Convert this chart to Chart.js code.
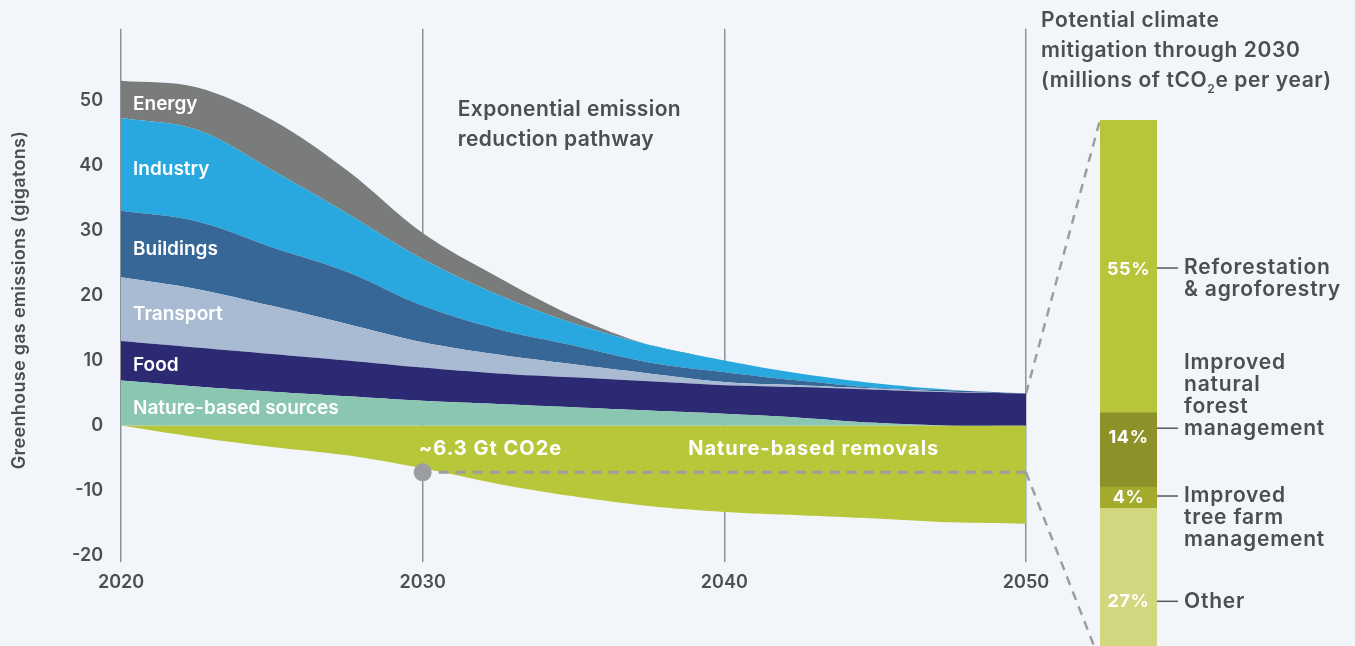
<!DOCTYPE html>
<html>
<head>
<meta charset="utf-8">
<script src="https://cdn.jsdelivr.net/npm/chart.js@4.4.1/dist/chart.umd.min.js"></script>
<style>
  html, body { margin:0; padding:0; background:#f2f6fa; overflow:hidden; }
  #wrap { position:relative; width:1355px; height:646px; overflow:hidden; }
  canvas { position:absolute; left:0; top:0; }
</style>
</head>
<body>
<div id="wrap">
  <canvas id="mainChart" width="1355" height="646"></canvas>
  <canvas id="barChart" width="1355" height="651"></canvas>
</div>
<script>
// ---------- data (gigatons per sector, stacked) ----------
const years         = [2020, 2022.5, 2025, 2027.5, 2030, 2032.5, 2035, 2037.5, 2040, 2042.5, 2045, 2047.5, 2050];
const natureSources = [6.9, 6.0, 5.2, 4.5, 3.8, 3.3, 2.8, 2.3, 1.8, 1.2, 0.4, 0, 0];
const food          = [6.1, 6.0, 5.8, 5.5, 5.1, 4.7, 4.6, 4.5, 4.4, 4.7, 5.1, 5.1, 4.9];
const transport     = [9.8, 9.0, 7.4, 5.6, 3.9, 2.9, 2.0, 1.2, 0.5, 0.3, 0.2, 0.1, 0];
const buildings     = [10.2, 10.4, 9.0, 8.0, 5.6, 3.9, 2.9, 1.7, 1.5, 0.7, 0.1, 0.2, 0];
const industry      = [14.3, 14.1, 11.9, 9.0, 7.2, 5.3, 3.4, 2.7, 1.8, 1.1, 0.7, 0.1, 0];
const energy        = [5.7, 6.5, 7.7, 6.6, 4.0, 2.7, 1.1, 0, 0, 0, 0, 0, 0];
const removals      = [0, -1.8, -3.3, -4.6, -6.6, -9.0, -10.9, -12.4, -13.3, -13.8, -14.3, -14.9, -15.1];

const xTicks = [2020, 2030, 2040, 2050];
const yTicks = [-20, -10, 0, 10, 20, 30, 40, 50];

const markerYear  = 2030;
const markerValue = -7.2;
const markerLabel = '~6.3 Gt CO2e';

// right-hand bar: potential mitigation through 2030
const mitigationShares = [55, 14, 4, 27];
const mitigationLines  = [
  ['Reforestation', '& agroforestry'],
  ['Improved', 'natural', 'forest', 'management'],
  ['Improved', 'tree farm', 'management'],
  ['Other']
];

const FONT = "Inter, 'Open Sans', sans-serif";
const TEXT = '#4b4e52';
const DASH = '#9b9da1';

const sectors = [
  { label:'Nature-based sources', data: natureSources, color:'#8bc6b3' },
  { label:'Food',                 data: food,          color:'#2d2a74' },
  { label:'Transport',            data: transport,     color:'#a9bbd3' },
  { label:'Buildings',            data: buildings,     color:'#366796' },
  { label:'Industry',             data: industry,      color:'#29a7df' },
  { label:'Energy',               data: energy,        color:'#7a7c7b' },
];
const pts = arr => years.map((yr, i) => ({ x: yr, y: arr[i] }));

const datasets = sectors.map((s, i) => ({
  label: s.label,
  data: pts(s.data),
  backgroundColor: s.color,
  borderColor: s.color,
  borderWidth: 0,
  pointRadius: 0,
  fill: i === 0 ? 'origin' : '-1',
  stack: 'emissions',
  tension: 0.35
}));
datasets.push({
  label: 'Nature-based removals',
  data: pts(removals),
  backgroundColor: '#b8c63a',
  borderColor: '#b8c63a',
  borderWidth: 0,
  pointRadius: 0,
  fill: 'origin',
  stack: 'removals',
  tension: 0.35
});

// labels, marker and dashed reference line on the area chart
const mainLabels = {
  id: 'mainLabels',
  afterDatasetsDraw(chart) {
    const { ctx, scales: { x, y } } = chart;
    ctx.save();
    ctx.textBaseline = 'middle';
    ctx.textAlign = 'left';
    ctx.fillStyle = '#fff';
    ctx.font = `600 19px ${FONT}`;
    let base = 0;
    sectors.forEach(s => {
      const top = base + s.data[0];
      const yMid = (y.getPixelForValue(base) + y.getPixelForValue(top)) / 2 + 5;
      ctx.fillText(s.label, x.getPixelForValue(years[0]) + 12, yMid);
      base = top;
    });

    const mx = x.getPixelForValue(markerYear);
    const my = y.getPixelForValue(markerValue);
    const endX = x.getPixelForValue(years[years.length - 1]);
    ctx.strokeStyle = DASH;
    ctx.lineWidth = 3;
    ctx.setLineDash([10, 7]);
    ctx.beginPath(); ctx.moveTo(mx + 16, my); ctx.lineTo(endX, my); ctx.stroke();
    ctx.setLineDash([]);
    ctx.fillStyle = DASH;
    ctx.beginPath(); ctx.arc(mx, my, 9, 0, Math.PI * 2); ctx.fill();

    const ty = (y.getPixelForValue(0) + my) / 2;
    ctx.fillStyle = '#fff';
    ctx.font = `700 20px ${FONT}`;
    ctx.letterSpacing = '1px';
    ctx.fillText(markerLabel, mx - 4, ty);
    ctx.fillText('Nature-based removals', x.getPixelForValue(2038.8), ty);

    ctx.fillStyle = TEXT;
    ctx.font = `600 21px ${FONT}`;
    ctx.letterSpacing = '0.4px';
    ctx.fillText('Exponential emission', mx + 35, 110);
    ctx.fillText('reduction pathway', mx + 35, 140);

    // y axis title
    ctx.letterSpacing = '0.3px';
    ctx.font = `600 18px ${FONT}`;
    ctx.translate(20, 300);
    ctx.rotate(-Math.PI / 2);
    ctx.textAlign = 'center';
    ctx.fillText('Greenhouse gas emissions (gigatons)', 0, 0);
    ctx.restore();
  }
};

const mainChart = new Chart(document.getElementById('mainChart'), {
  type: 'line',
  data: { datasets },
  plugins: [mainLabels],
  options: {
    responsive: false,
    animation: false,
    events: [],
    layout: { padding: { top: 28, right: 329, bottom: 0, left: 0 } },
    plugins: { legend: { display: false }, tooltip: { enabled: false } },
    scales: {
      x: {
        type: 'linear', min: 2020, max: 2050,
        afterBuildTicks: s => { s.ticks = xTicks.map(v => ({ value: v })); },
        afterFit: s => { s.height = 84; },
        grid: { color: '#8d9196', lineWidth: 1.5, drawTicks: false },
        border: { display: false },
        ticks: { padding: 10, color: TEXT, font: { family: FONT, size: 18, weight: '600' }, callback: v => String(v) }
      },
      y: {
        stacked: true, min: -21, max: 61,
        afterBuildTicks: s => { s.ticks = yTicks.map(v => ({ value: v })); },
        afterFit: s => { s.width = 121; },
        grid: { display: false, drawTicks: false },
        border: { display: false },
        ticks: { padding: 18, color: TEXT, font: { family: FONT, size: 18, weight: '600' } }
      }
    }
  }
});

// ---------- right-hand breakdown bar ----------
const pctOffsets    = [4, -12, 1, 22];
const leaderOffsets = [-2, -9, -2, 0];
const anchorLine    = [0, 3, 0, 0];

const barLabels = {
  id: 'barLabels',
  afterDatasetsDraw(chart) {
    const ctx = chart.ctx;
    const area = chart.chartArea;
    ctx.save();
    ctx.textBaseline = 'middle';

    chart.data.datasets.forEach((ds, i) => {
      const bar = chart.getDatasetMeta(i).data[0];
      const top = Math.min(bar.y, bar.base), bottom = Math.max(bar.y, bar.base);
      const labelY = (top + bottom) / 2 + pctOffsets[i];
      ctx.fillStyle = '#fff';
      ctx.textAlign = 'center';
      ctx.font = `700 18px ${FONT}`;
      ctx.letterSpacing = '0.6px';
      ctx.fillText(ds.data[0] + '%', bar.x, labelY);

      const right = bar.x + bar.width / 2;
      const ly = labelY + leaderOffsets[i];
      ctx.strokeStyle = '#55585c';
      ctx.lineWidth = 1.5;
      ctx.beginPath(); ctx.moveTo(right, ly); ctx.lineTo(right + 21, ly); ctx.stroke();

      ctx.fillStyle = TEXT;
      ctx.textAlign = 'left';
      ctx.font = `600 21px ${FONT}`;
      ctx.letterSpacing = '0.8px';
      mitigationLines[i].forEach((ln, k) => {
        ctx.fillText(ln, right + 27, ly + (k - anchorLine[i]) * 22);
      });
    });

    // title
    const tx = area.left - 59;
    ctx.fillStyle = TEXT;
    ctx.textAlign = 'left';
    ctx.font = `600 21px ${FONT}`;
    ctx.letterSpacing = '0.6px';
    ctx.fillText('Potential climate', tx, 21);
    ctx.fillText('mitigation through 2030', tx, 51);
    let cx = tx;
    const part1 = '(millions of tCO';
    ctx.fillText(part1, cx, 81); cx += ctx.measureText(part1).width;
    ctx.font = `600 12px ${FONT}`;
    ctx.fillText('2', cx, 89); cx += ctx.measureText('2').width;
    ctx.font = `600 21px ${FONT}`;
    ctx.fillText('e per year)', cx, 81);

    // dashed connectors from the 2050 column to the bar
    const mx = mainChart.scales.x;
    const my = mainChart.scales.y;
    const last = years.length - 1;
    const total2050 = sectors.reduce((s, sec) => s + sec.data[last], 0);
    const x0 = mx.getPixelForValue(years[last]);
    ctx.strokeStyle = DASH;
    ctx.lineWidth = 2.5;
    ctx.setLineDash([9, 7]);
    ctx.beginPath();
    ctx.moveTo(x0, my.getPixelForValue(total2050)); ctx.lineTo(area.left, area.top);
    ctx.moveTo(x0, my.getPixelForValue(markerValue)); ctx.lineTo(area.left - 4, area.bottom);
    ctx.stroke();
    ctx.restore();
  }
};

new Chart(document.getElementById('barChart'), {
  type: 'bar',
  data: {
    labels: ['2030'],
    datasets: mitigationShares.map((v, i) => ({
      label: mitigationLines[i].join(' '),
      data: [v],
      backgroundColor: ['#b8c53a', '#8e9127', '#a4aa2b', '#d2d67e'][i],
      borderWidth: 0,
      barPercentage: 1,
      categoryPercentage: 1
    }))
  },
  plugins: [barLabels],
  options: {
    responsive: false,
    animation: false,
    events: [],
    layout: { padding: { top: 120, right: 198, bottom: 0, left: 1100 } },
    plugins: { legend: { display: false }, tooltip: { enabled: false } },
    scales: {
      x: { display: false, stacked: true },
      y: { display: false, stacked: true, min: 0, max: 100, reverse: true }
    }
  }
});
</script>
</body>
</html>
